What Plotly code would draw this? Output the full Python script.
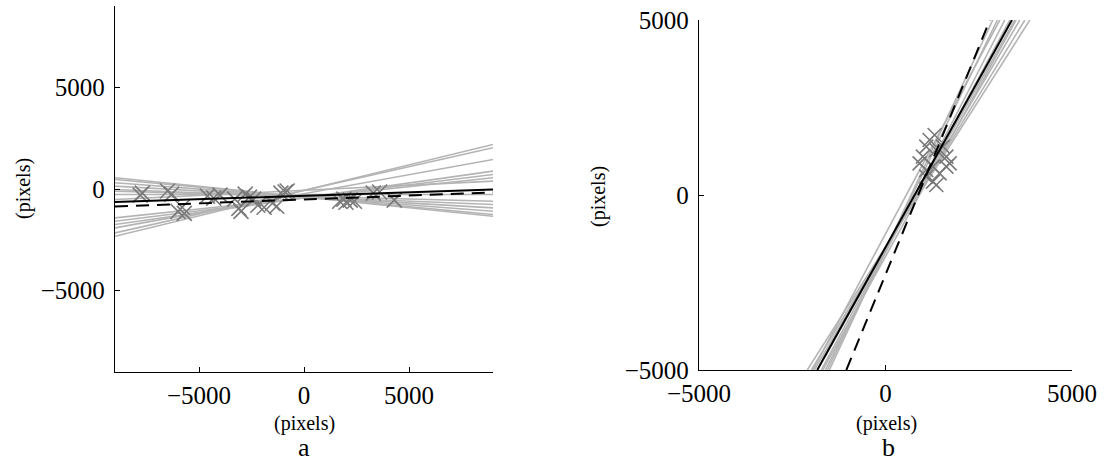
import plotly.graph_objects as go

# ---------------- Data ----------------
# Panel a: grey fitted lines, y at x = -9000 and x = +9000
a_line_x = [-9000, 9000]
a_grey_left = [-2324, -2160, -1913, -1749, -1585, -1420, 550, 468, 304, 140, -25, -107, -271, -517]
a_grey_right = [2192, 2028, 1453, 878, 714, 550, -1338, -1256, -1092, -928, -764, -599, -271, 386]
a_solid = [-640, -25]
a_dashed = [-860, -170]
a_pts_x = [-7800, -7700, -6500, -6300, -6000, -5800, -5700, -4600, -4300, -4000, -3300, -3100, -3000,
           -2800, -2600, -2400, -2200, -1900, -1500, -1300, -1100, -900, -800, 1700, 1900, 2000, 2200,
           2400, 3300, 3600, 4300]
a_pts_y = [-300, -200, -100, -250, -1100, -900, -1200, -350, -450, -300, -500, -950, -1100,
           -250, -400, -500, -800, -900, -700, -850, -200, -150, -100, -600, -500, -650, -550,
           -600, -200, -150, -550]

# Panel b: grey fitted lines, x at y = -5000 and y = +5000
b_line_y = [-5000, 5000]
b_grey_bottom = [-2097, -1989, -1908, -1828, -1720, -1613, -1505, -1950, -1680, -1560]
b_grey_top = [3870, 3736, 3602, 3467, 3333, 3198, 2876, 3064, 3500, 3000]
b_solid = [-1830, 3390]
b_dashed = [-1050, 2800]
b_pts_x = [1317, 1093, 1362, 1003, 1631, 914, 1720, 1093, 1272, 1452, 1093, 1631, 1272, 1362, 1183, 1541]
b_pts_y = [1714, 1381, 1286, 1095, 1095, 905, 905, 714, 809, 619, 524, 809, 381, 286, 1571, 1381]

tick_vals = [-5000, 0, 5000]
tick_text = ["\u22125000", "0", "5000"]
axis_title = "(pixels)"
panel_labels = ["a", "b"]

# ---------------- Styles ----------------
GREY_LINE = "#b4b4b4"
GREY_MARK = "#7a7a7a"
FONT = "Liberation Serif, Times New Roman, serif"
W, H = 1104, 463
DASH = "13px,8px"

fig = go.Figure()

# Panel a
for yl, yr in zip(a_grey_left, a_grey_right):
    fig.add_trace(go.Scatter(x=a_line_x, y=[yl, yr], mode="lines",
                             line=dict(color=GREY_LINE, width=1.6), xaxis="x", yaxis="y",
                             showlegend=False, hoverinfo="skip"))
fig.add_trace(go.Scatter(x=a_pts_x, y=a_pts_y, mode="markers",
                         marker=dict(symbol="x-thin-open", size=15, color=GREY_MARK,
                                     line=dict(color=GREY_MARK, width=1.6)),
                         xaxis="x", yaxis="y", showlegend=False))
fig.add_trace(go.Scatter(x=a_line_x, y=a_solid, mode="lines",
                         line=dict(color="black", width=2), xaxis="x", yaxis="y", showlegend=False))
fig.add_trace(go.Scatter(x=a_line_x, y=a_dashed, mode="lines",
                         line=dict(color="black", width=2, dash=DASH),
                         xaxis="x", yaxis="y", showlegend=False))

# Panel b
for xb, xt in zip(b_grey_bottom, b_grey_top):
    fig.add_trace(go.Scatter(x=[xb, xt], y=b_line_y, mode="lines",
                             line=dict(color=GREY_LINE, width=1.6), xaxis="x2", yaxis="y2",
                             showlegend=False, hoverinfo="skip"))
fig.add_trace(go.Scatter(x=b_pts_x, y=b_pts_y, mode="markers",
                         marker=dict(symbol="x-thin-open", size=14, color=GREY_MARK,
                                     line=dict(color=GREY_MARK, width=1.6)),
                         xaxis="x2", yaxis="y2", showlegend=False))
fig.add_trace(go.Scatter(x=b_solid, y=b_line_y, mode="lines",
                         line=dict(color="black", width=2), xaxis="x2", yaxis="y2", showlegend=False))
fig.add_trace(go.Scatter(x=b_dashed, y=b_line_y, mode="lines",
                         line=dict(color="black", width=2, dash=DASH),
                         xaxis="x2", yaxis="y2", showlegend=False))

axis_common = dict(showline=True, linecolor="black", linewidth=1.3, mirror=False,
                   ticks="inside", ticklen=5, tickwidth=1.2, tickcolor="black",
                   showgrid=False, zeroline=False, tickvals=tick_vals, ticktext=tick_text,
                   tickfont=dict(family=FONT, size=25, color="black"), automargin=False)

fig.update_layout(
    width=W, height=H, margin=dict(l=0, r=0, t=0, b=0),
    paper_bgcolor="white", plot_bgcolor="white", showlegend=False,
    xaxis=dict(domain=[115 / W, 493 / W], range=[-9000, 9000], anchor="y",
               ticklabelstandoff=1, **axis_common),
    yaxis=dict(domain=[1 - 372 / H, 1 - 6 / H], range=[-9000, 9000], anchor="x",
               ticklabelstandoff=4, **axis_common),
    xaxis2=dict(domain=[699 / W, 1072 / W], range=[-5000, 5000], anchor="y2",
                ticklabelstandoff=1, **axis_common),
    yaxis2=dict(domain=[1 - 370 / H, 1 - 20 / H], range=[-5000, 5000], anchor="x2",
                ticklabelstandoff=4, **axis_common),
)

small = dict(family=FONT, size=20, color="black")
big = dict(family=FONT, size=26, color="black")
ann = [
    dict(x=304 / W, y=1 - 423 / H, text=axis_title, font=small),
    dict(x=23 / W, y=1 - 189 / H, text=axis_title, font=small, textangle=-90),
    dict(x=886 / W, y=1 - 423 / H, text=axis_title, font=small),
    dict(x=599 / W, y=1 - 197 / H, text=axis_title, font=small, textangle=-90),
    dict(x=304 / W, y=1 - 447 / H, text=panel_labels[0], font=big),
    dict(x=888 / W, y=1 - 447 / H, text=panel_labels[1], font=big),
]
for a in ann:
    a.update(xref="paper", yref="paper", showarrow=False, xanchor="center", yanchor="middle")
    fig.add_annotation(**a)

fig.write_html("out.html", config={"displayModeBar": False},
               post_script="document.body.style.margin='0';document.body.style.overflow='hidden';")
